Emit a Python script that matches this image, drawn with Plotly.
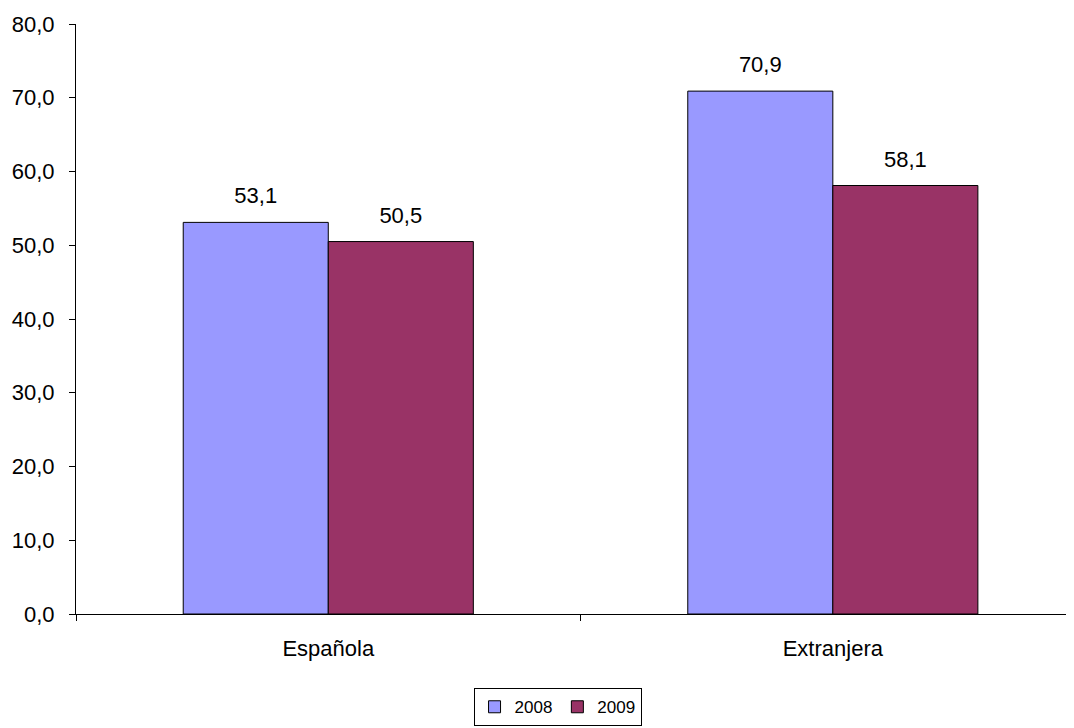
import plotly.graph_objects as go

categories = ["Española", "Extranjera"]
series_names = ["2008", "2009"]
values_2008 = [53.1, 70.9]
values_2009 = [50.5, 58.1]
colors = ["#9999FF", "#993366"]

FONT = "Arial, Liberation Sans, sans-serif"

fig = go.Figure()
for name, vals, col in zip(series_names, [values_2008, values_2009], colors):
    fig.add_trace(go.Bar(
        x=categories, y=vals, name=name, offsetgroup=name,
        marker=dict(color=col, line=dict(color="black", width=1)),
    ))
for name, vals in zip(series_names, [values_2008, values_2009]):
    fig.add_trace(go.Scatter(
        x=categories, y=vals, mode="markers+text", offsetgroup=name,
        marker=dict(size=20, opacity=0, color="white"),
        text=[f"{v:.1f}".replace(".", ",") for v in vals],
        textposition="top center", cliponaxis=False, showlegend=False,
        textfont=dict(family=FONT, size=22, color="black"), hoverinfo="skip",
    ))

fig.update_layout(
    width=1066, height=720,
    margin=dict(l=68, r=0, t=16, b=114, autoexpand=False),
    paper_bgcolor="white", plot_bgcolor="white",
    barmode="group", bargap=0.425, bargroupgap=0,
    scattermode="group", scattergap=0.425,
    separators=",.",
    font=dict(family=FONT, size=22, color="black"),
    xaxis=dict(
        range=[-0.5, 1.478], showline=True, linecolor="black", linewidth=1,
        ticks="outside", tickson="boundaries", ticklen=6, tickcolor="black",
        showgrid=False, tickfont=dict(size=22), ticklabelstandoff=15,
    ),
    yaxis=dict(
        range=[0, 80], dtick=10, tickformat=".1f", showline=True,
        linecolor="black", linewidth=1, ticks="outside", ticklen=6,
        tickcolor="black", showgrid=False, zeroline=False,
        tickfont=dict(size=22), ticklabelstandoff=10,
    ),
    legend=dict(
        orientation="h", x=0.4825, xanchor="center", y=-0.158, yanchor="middle",
        bordercolor="black", borderwidth=1, font=dict(size=17),
        traceorder="normal", itemwidth=30,
    ),
)
fig.write_html("out.html")
